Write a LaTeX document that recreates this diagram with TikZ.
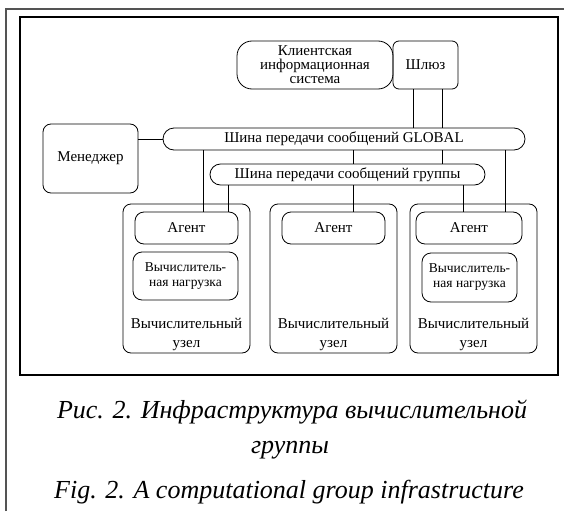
\documentclass[tikz,border=0pt]{standalone}
\usepackage{fontspec}
\setmainfont{Liberation Serif}
\begin{document}
\begin{tikzpicture}[x=1pt,y=-1pt,
  box/.style={draw=black,line width=0.8pt,rounded corners=#1,inner sep=0pt,align=center},
  box/.default=8pt,
  wire/.style={draw=black,line width=0.8pt},
  txt/.style={font=\fontsize{15}{19}\selectfont},
  captext/.style={font=\fontsize{26}{30}\selectfont\itshape,anchor=base,inner sep=0pt}]
\useasboundingbox (0,0) rectangle (564,511);
% outer gray page lines
\draw[color=black!67,line width=1.5pt] (6,511) -- (6,9) -- (564,9);
% inner frame
\draw[line width=2pt] (20,17) rectangle (558,375);
% nodes
\node[box=15pt,minimum width=156pt,minimum height=48pt,font=\fontsize{15}{14}\selectfont] (client) at (315,65) {Клиентская\\информационная\\система};
\node[box=6pt,minimum width=65pt,minimum height=48pt,txt] (gate) at (425.5,65) {Шлюз};
\node[box=8pt,minimum width=95pt,minimum height=69pt,txt] (mgr) at (90.5,158.5) {Менеджер};
\node[box=11pt,minimum width=362pt,minimum height=22pt,txt] (global) at (344,139) {Шина передачи сообщений GLOBAL};
\node[box=10.5pt,minimum width=275pt,minimum height=21pt,txt] (group) at (347.5,174.5) {Шина передачи сообщений группы};
\node[box=8pt,minimum width=127pt,minimum height=149pt] (node1) at (186.5,278.5) {};
\node[box=8pt,minimum width=127pt,minimum height=149pt] (node2) at (333.5,278.5) {};
\node[box=8pt,minimum width=127pt,minimum height=149pt] (node3) at (473.5,278.5) {};
\node[box=9pt,minimum width=103pt,minimum height=32pt,txt] (agent1) at (186.5,228) {Агент};
\node[box=9pt,minimum width=103pt,minimum height=32pt,txt] (agent2) at (333.5,228) {Агент};
\node[box=9pt,minimum width=106pt,minimum height=32pt,txt] (agent3) at (469,228) {Агент};
\node[box=9pt,minimum width=105pt,minimum height=48pt,font=\fontsize{13.5}{15}\selectfont] (load1) at (185.5,276) {Вычислитель-\\ная нагрузка};
\node[box=9pt,minimum width=95pt,minimum height=49pt,font=\fontsize{13.5}{15}\selectfont] (load3) at (469.5,277.5) {Вычислитель-\\ная нагрузка};
\node[txt,align=center,inner sep=0pt] (lbl1) at (186.5,334.5) {Вычислительный\\узел};
\node[txt,align=center,inner sep=0pt] (lbl2) at (333.5,334.5) {Вычислительный\\узел};
\node[txt,align=center,inner sep=0pt] (lbl3) at (473.5,334.5) {Вычислительный\\узел};
% x positions of connectors
\coordinate (xa) at (203,0);
\coordinate (xb) at (228,0);
\coordinate (xc) at (353,0);
\coordinate (xd) at (413,0);
\coordinate (xe) at (442,0);
\coordinate (xf) at (463,0);
\coordinate (xg) at (505,0);
% connectors
\draw[wire] (gate.south -| xd) -- (global.north -| xd);
\draw[wire] (gate.south -| xe) -- (global.north -| xe);
\draw[wire] (mgr.east |- global.west) -- (global.west);
\draw[wire] (global.south -| xa) -- (agent1.north -| xa);
\draw[wire] (group.south -| xb) -- (agent1.north -| xb);
\draw[wire] (global.south -| xc) -- (group.north -| xc);
\draw[wire] (global.south -| xe) -- (group.north -| xe);
\draw[wire] (group.south -| xc) -- (agent2.north -| xc);
\draw[wire] (group.south -| xf) -- (agent3.north -| xf);
\draw[wire] (global.south -| xg) -- (agent3.north -| xg);
% caption
\node[captext] (cap1) at (292,418) {Рис. 2. Инфраструктура вычислительной};
\node[captext] (cap2) at (290,453) {группы};
\node[captext] (cap3) at (289,498) {Fig. 2. A computational group infrastructure};
\end{tikzpicture}
\end{document}
